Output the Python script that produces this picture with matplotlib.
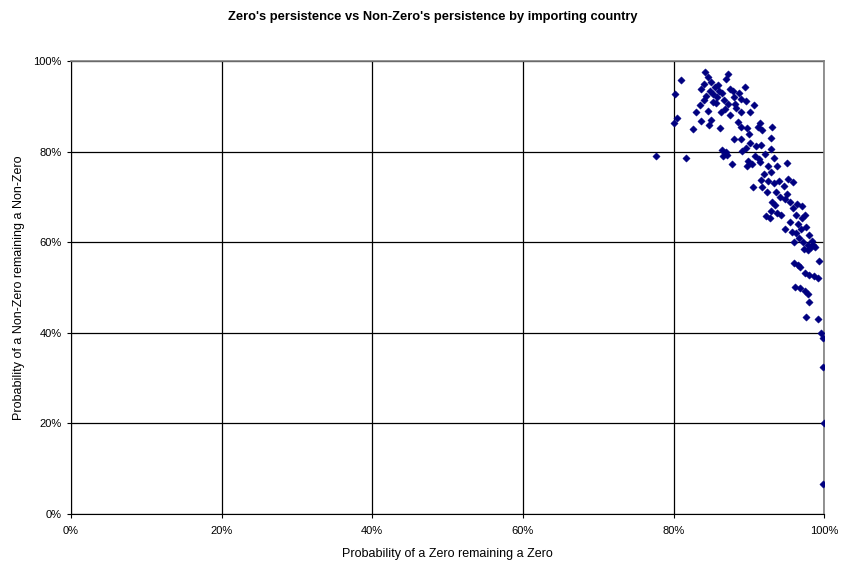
import matplotlib.pyplot as plt
from matplotlib.ticker import PercentFormatter

plt.rcParams['font.family'] = ['Liberation Sans', 'DejaVu Sans']

# probability (%) of a zero remaining a zero
zero_persist = [
    84.2, 84.6, 85.0, 81.0, 84.0, 85.5, 86.0, 85.3, 86.5, 85.8,
    84.8, 87.2, 87.5, 88.0, 86.7, 85.6, 84.1, 83.0, 83.5, 84.6,
    85.0, 84.7, 83.7, 82.6, 80.4, 80.0, 80.2, 81.6, 77.7, 86.2,
    86.6, 87.0, 86.3, 87.2, 88.2, 88.9, 89.5, 89.6, 89.0, 88.3,
    87.5, 88.6, 89.0, 89.8, 90.7, 90.2, 88.0, 89.0, 89.6, 90.0,
    91.5, 91.8, 91.2, 91.0, 91.6, 90.8, 90.4, 89.8, 87.8, 90.6,
    92.1, 91.5, 92.0, 91.6, 91.8, 92.6, 93.1, 93.0, 92.9, 93.3,
    93.0, 92.5, 93.4, 92.3, 93.8, 94.0, 93.6, 93.1, 93.5, 93.0,
    92.8, 93.8, 94.3, 94.2, 95.0, 95.2, 95.8, 94.8, 95.4, 95.8,
    96.2, 95.5, 94.8, 95.7, 96.3, 96.5, 97.0, 96.4, 97.0, 97.5,
    96.7, 97.2, 97.8, 98.0, 97.6, 98.2, 98.5, 98.8, 97.3, 96.0,
    96.0, 96.5, 96.8, 97.5, 98.0, 98.6, 99.2, 99.3, 96.1, 96.8,
    97.4, 97.8, 98.0, 97.6, 99.2, 99.6, 99.8, 99.8, 100.0, 99.8,
    86.4, 87.1, 89.1, 89.9, 83.7, 84.3, 85.9, 87.9, 86.9, 88.7,
    85.2, 86.8, 90.1, 91.3, 92.4, 94.6, 95.1, 96.9, 97.9, 98.4,
]
# probability (%) of a non-zero remaining a non-zero
nonzero_persist = [
    97.6, 96.5, 95.4, 95.9, 95.0, 94.2, 93.5, 92.8, 93.0, 92.0,
    93.3, 97.2, 93.8, 92.0, 91.4, 90.7, 91.4, 88.7, 90.3, 89.0,
    87.0, 86.0, 86.8, 85.0, 87.4, 86.3, 92.7, 78.7, 79.1, 85.2,
    79.0, 80.0, 88.7, 90.6, 90.5, 91.6, 94.3, 91.2, 88.7, 89.6,
    88.0, 86.6, 85.4, 85.2, 90.4, 88.7, 82.7, 82.8, 80.9, 84.0,
    86.3, 84.8, 85.4, 81.2, 81.5, 79.0, 77.2, 76.8, 77.3, 72.1,
    79.5, 77.7, 75.0, 73.8, 72.2, 76.9, 85.4, 83.0, 80.5, 78.5,
    75.5, 73.5, 73.0, 65.9, 76.8, 73.5, 71.0, 69.0, 68.2, 67.0,
    65.3, 66.5, 66.0, 70.0, 77.5, 74.0, 73.3, 69.5, 69.0, 67.5,
    66.0, 64.5, 63.0, 62.3, 62.0, 64.0, 68.0, 68.5, 65.4, 66.0,
    61.0, 60.0, 59.5, 61.5, 63.3, 59.0, 59.3, 59.0, 58.5, 60.0,
    55.5, 55.0, 54.5, 53.3, 52.8, 52.5, 52.0, 55.8, 50.2, 49.8,
    49.3, 48.6, 46.8, 43.6, 43.0, 40.0, 38.8, 32.5, 20.0, 6.7,
    80.4, 79.2, 80.1, 77.9, 93.9, 92.2, 94.8, 93.4, 96.0, 92.9,
    91.0, 89.5, 82.0, 78.3, 71.2, 72.5, 70.6, 63.0, 58.2, 60.3,
]

fig = plt.figure(figsize=(8.41, 5.66), dpi=100)
ax = fig.add_axes([0.0844, 0.0919, 0.8956, 0.8001])

ax.scatter(zero_persist, nonzero_persist, marker='D', s=14, color='#000080',
           edgecolors='#000080', linewidths=0.3, zorder=3)

ax.set_xlim(0, 100)
ax.set_ylim(0, 100)
ax.set_xticks(range(0, 101, 20))
ax.set_yticks(range(0, 101, 20))
ax.xaxis.set_major_formatter(PercentFormatter(decimals=0))
ax.yaxis.set_major_formatter(PercentFormatter(decimals=0))
ax.tick_params(labelsize=8, length=3, color='#000000', direction='out')
ax.tick_params(axis='x', pad=6)
ax.grid(True, color='black', linewidth=0.9)
ax.set_axisbelow(True)
for side in ['top', 'right']:
    ax.spines[side].set_color('#808080')
    ax.spines[side].set_linewidth(1.2)
for side in ['left', 'bottom']:
    ax.spines[side].set_color('#000000')

ax.set_xlabel('Probability of a Zero remaining a Zero', fontsize=9, labelpad=8)
ax.set_ylabel('Probability of a Non-Zero remaining a Non-Zero', fontsize=9, labelpad=6)
fig.suptitle("Zero's persistence vs Non-Zero's persistence by importing country",
             fontsize=9.3, fontweight='bold', x=0.514, y=0.981)

plt.savefig('out.png', dpi=100)
